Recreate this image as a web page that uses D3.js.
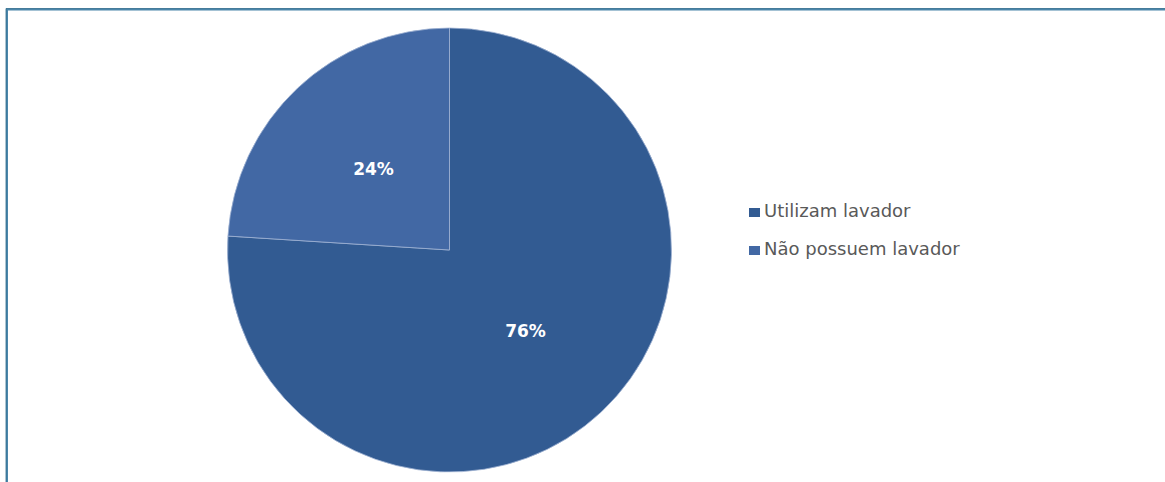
<!DOCTYPE html>
<html>
<head>
<meta charset="utf-8">
<script src="https://cdn.jsdelivr.net/npm/d3@7"></script>
<style>
  body { margin: 0; background: #fff; }
  svg text { font-family: "DejaVu Sans", Verdana, sans-serif; }
</style>
</head>
<body>
<svg id="chart" width="1165" height="482"></svg>
<script>
// data
const categories = ["Utilizam lavador", "Não possuem lavador"];
const values = [76, 24];
const colors = ["#325b92", "#4268a4"];

const svg = d3.select("#chart");

// frame (only top and left edges are visible)
svg.append("path")
    .attr("d", "M7,482V9.5H1165")
    .attr("fill", "none")
    .attr("stroke", "#4a86aa")
    .attr("stroke-width", 2);
svg.append("path")
    .attr("d", "M6,482V8.5H1165")
    .attr("fill", "none")
    .attr("stroke", "#2f6a8c")
    .attr("stroke-width", 0.8);

const cx = 449.5, cy = 250, radius = 222;

const pie = d3.pie().sort(null).value(d => d);
const arc = d3.arc().innerRadius(0).outerRadius(radius);
const labelArc = d3.arc().innerRadius(radius * 0.5).outerRadius(radius * 0.5);

const g = svg.append("g").attr("transform", `translate(${cx},${cy})`);

const slices = pie(values);

g.selectAll("path")
  .data(slices)
  .enter().append("path")
    .attr("d", arc)
    .attr("fill", (d, i) => colors[i])
    .attr("stroke", "#9fb3d3")
    .attr("stroke-width", 0.8);

g.selectAll("text")
  .data(slices)
  .enter().append("text")
    .attr("transform", d => `translate(${labelArc.centroid(d)})`)
    .attr("text-anchor", "middle")
    .attr("dy", "0.36em")
    .attr("fill", "#fff")
    .attr("font-weight", "bold")
    .attr("font-size", 17)
    .text(d => d.data + "%");

// legend
const legend = svg.append("g").attr("transform", "translate(749,217)");
const item = legend.selectAll("g")
  .data(categories)
  .enter().append("g")
    .attr("transform", (d, i) => `translate(0,${i * 38})`);

item.append("rect")
    .attr("x", 0)
    .attr("y", -9)
    .attr("width", 11)
    .attr("height", 9)
    .attr("fill", (d, i) => colors[i]);

item.append("text")
    .attr("x", 15)
    .attr("y", 0)
    .attr("fill", "#595959")
    .attr("font-size", 18)
    .text(d => d);
</script>
</body>
</html>
